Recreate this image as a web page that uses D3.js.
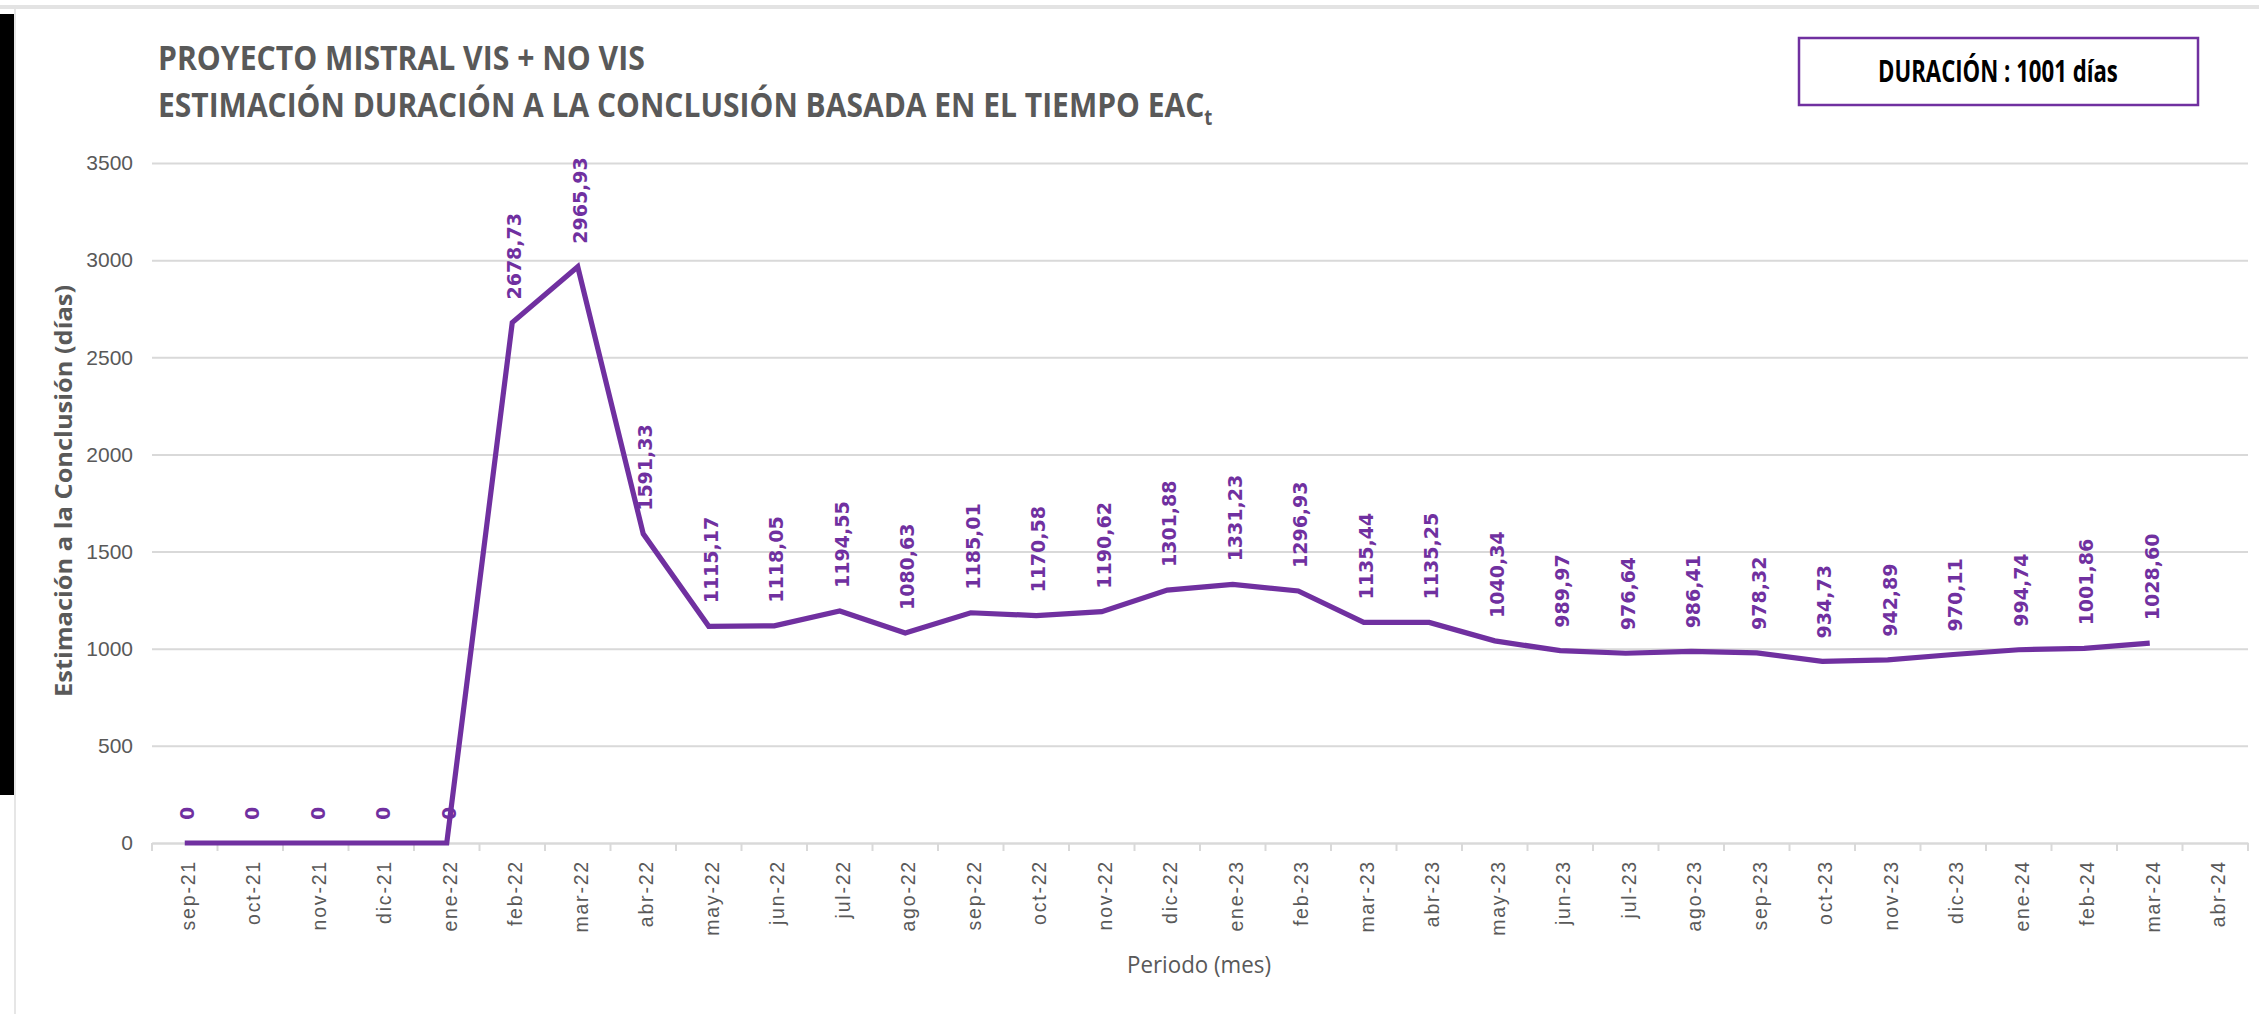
<!DOCTYPE html>
<html>
<head>
<meta charset="utf-8">
<script src="https://cdn.jsdelivr.net/npm/d3@7"></script>
<style>
  body { margin: 0; background: #fff; }
  svg { display: block; }
</style>
</head>
<body>
<svg></svg>
<script>
// Chart data
let months = ['sep-21', 'oct-21', 'nov-21', 'dic-21', 'ene-22', 'feb-22', 'mar-22', 'abr-22',
    'may-22', 'jun-22', 'jul-22', 'ago-22', 'sep-22', 'oct-22', 'nov-22', 'dic-22',
    'ene-23', 'feb-23', 'mar-23', 'abr-23', 'may-23', 'jun-23', 'jul-23', 'ago-23',
    'sep-23', 'oct-23', 'nov-23', 'dic-23', 'ene-24', 'feb-24', 'mar-24', 'abr-24']
let values = [0, 0, 0, 0, 0, 2678.73, 2965.93, 1591.33,
    1115.17, 1118.05, 1194.55, 1080.63, 1185.01, 1170.58, 1190.62, 1301.88,
    1331.23, 1296.93, 1135.44, 1135.25, 1040.34, 989.97, 976.64, 986.41,
    978.32, 934.73, 942.89, 970.11, 994.74, 1001.86, 1028.60, null]
let yTicks = [0, 500, 1000, 1500, 2000, 2500, 3000, 3500]

let titleLines = ['PROYECTO MISTRAL VIS + NO VIS', 'ESTIMACIÓN DURACIÓN A LA CONCLUSIÓN BASADA EN EL TIEMPO EAC']
let durationText = 'DURACIÓN : 1001 días'

// Canvas setup
let width = 2259
let height = 1014
let purple = '#7030A0'
let grey = '#595959'
let svg = d3.select('svg')
svg.attr('width', width)
svg.attr('height', height)

let plotLeft = 152
let plotRight = 2248
let plotTop = 163
let plotBottom = 843

// page decorations
svg.append('rect').attr('x', 0).attr('y', 5).attr('width', width).attr('height', 4).attr('fill', '#e3e3e3')
svg.append('rect').attr('x', 0).attr('y', 14).attr('width', 14).attr('height', 781).attr('fill', '#000')
svg.append('rect').attr('x', 14).attr('y', 9).attr('width', 2).attr('height', height).attr('fill', '#e6e6e6')

// Define scales
let xScale = d3.scaleBand()
    .domain(months)
    .range([plotLeft, plotRight])
    .padding(0)

let yScale = d3.scaleLinear()
    .domain([0, 3500])
    .range([plotBottom, plotTop])

let cx = (m) => xScale(m) + xScale.bandwidth() / 2

// gridlines + y labels
let yAxis = d3.axisLeft(yScale)
    .tickValues(yTicks)
    .tickSize(-(plotRight - plotLeft))
    .tickPadding(19)
    .tickFormat(d3.format('d'))

let yG = svg.append('g')
    .attr('transform', 'translate(' + plotLeft + ',0)')
    .call(yAxis)
yG.select('.domain').remove()
yG.selectAll('line').attr('stroke', '#d9d9d9').attr('stroke-width', 2)
yG.selectAll('text')
    .attr('fill', grey)
    .style('font-family', '"Liberation Sans", Arial, sans-serif')
    .style('font-size', '21px')

// x axis
let xAxis = d3.axisBottom(xScale)
    .tickSize(0)
    .tickSizeOuter(0)

let xG = svg.append('g')
    .attr('transform', 'translate(0,' + plotBottom + ')')
    .call(xAxis)
xG.select('.domain').attr('stroke', '#d9d9d9').attr('stroke-width', 2)
xG.selectAll('.tick text')
    .attr('transform', 'rotate(-90)')
    .attr('x', -17)
    .attr('y', 3)
    .attr('dy', '0.35em')
    .attr('text-anchor', 'end')
    .attr('fill', grey)
    .style('font-family', '"Liberation Sans", Arial, sans-serif')
    .style('font-size', '19.5px')
    .style('letter-spacing', '1.8px')

// boundary tick marks
xG.selectAll('line.bound')
    .data(months.concat(['end']))
    .enter()
    .append('line')
    .attr('class', 'bound')
    .attr('x1', (d) => d == 'end' ? plotRight : xScale(d))
    .attr('x2', (d) => d == 'end' ? plotRight : xScale(d))
    .attr('y1', 0)
    .attr('y2', 8)
    .attr('stroke', '#d9d9d9')
    .attr('stroke-width', 2)

// line
let points = months.map((m, i) => ({ m: m, v: values[i] })).filter((d) => d.v != null)

let line = d3.line()
    .x((d) => cx(d.m))
    .y((d) => yScale(d.v))

svg.append('path')
    .datum(points)
    .attr('d', line)
    .attr('fill', 'none')
    .attr('stroke', purple)
    .attr('stroke-width', 5.2)

// data labels
let fmt = (v) => v == 0 ? '0' : v.toFixed(2).replace('.', ',')

svg.selectAll('text.lbl')
    .data(points)
    .enter()
    .append('text')
    .attr('class', 'lbl')
    .attr('transform', (d) => 'translate(' + (cx(d.m) + 2) + ',' + (yScale(d.v) - 23) + ') rotate(-90)')
    .attr('dy', '0.36em')
    .attr('fill', purple)
    .style('font-family', '"DejaVu Sans", Verdana, sans-serif')
    .style('font-weight', 'bold')
    .style('font-size', '19px')
    .text((d) => fmt(d.v))

// titles (squeezed horizontally to the reference width)
let titleFont = '"Liberation Sans Narrow", "Open Sans", sans-serif'

let squeeze = (sel, x, y, w) => {
    let natural = sel.node().getComputedTextLength()
    sel.attr('transform', 'translate(' + x + ',' + y + ') scale(' + (w / natural) + ',1)')
}

let t1 = svg.append('text')
    .attr('fill', grey)
    .style('font-family', titleFont)
    .style('font-weight', 'bold')
    .style('font-size', '34px')
    .text(titleLines[0])
squeeze(t1, 158, 70, 487)

let t2 = svg.append('text')
    .attr('fill', grey)
    .style('font-family', titleFont)
    .style('font-weight', 'bold')
    .style('font-size', '34px')
t2.append('tspan').text(titleLines[1])
t2.append('tspan')
    .attr('dy', 8)
    .style('font-size', '21px')
    .text('t')
squeeze(t2, 158, 117, 1055)

// duration box
svg.append('rect')
    .attr('x', 1799)
    .attr('y', 38)
    .attr('width', 399)
    .attr('height', 67)
    .attr('fill', '#fff')
    .attr('stroke', purple)
    .attr('stroke-width', 2.5)

let dur = svg.append('text')
    .attr('fill', '#000')
    .style('font-family', titleFont)
    .style('font-weight', 'bold')
    .style('font-size', '30px')
    .text(durationText)
squeeze(dur, 1878, 82, 240)

// axis titles
svg.append('text')
    .attr('transform', 'translate(72,491) rotate(-90)')
    .attr('text-anchor', 'middle')
    .attr('fill', grey)
    .attr('textLength', 412)
    .attr('lengthAdjust', 'spacingAndGlyphs')
    .style('font-family', titleFont)
    .style('font-weight', 'bold')
    .style('font-size', '23px')
    .text('Estimación a la Conclusión (días)')

svg.append('text')
    .attr('x', 1199)
    .attr('y', 973)
    .attr('text-anchor', 'middle')
    .attr('fill', grey)
    .attr('textLength', 144)
    .attr('lengthAdjust', 'spacingAndGlyphs')
    .style('font-family', titleFont)
    .style('font-size', '23px')
    .text('Periodo (mes)')
</script>
</body>
</html>
